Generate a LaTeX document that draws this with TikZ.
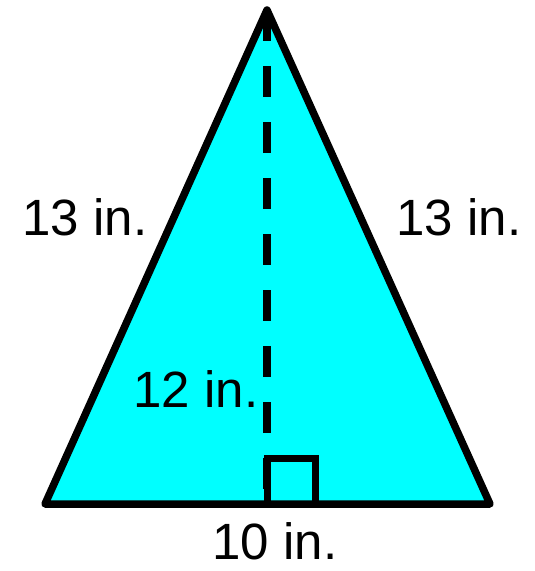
\documentclass[tikz,border=0pt]{standalone}
\usepackage{fontspec}
\setmainfont{Liberation Sans}
\definecolor{tri}{RGB}{0,255,255}
\begin{document}
\begin{tikzpicture}[x=1pt,y=-1pt,
  edge/.style={line width=7.5pt,line join=round,line cap=round},
  lbl/.style={anchor=base,inner sep=0pt,text depth=0pt,font=\fontsize{51}{60}\selectfont}]
\useasboundingbox (0,0) rectangle (535,571);
\coordinate (A) at (267,10);
\coordinate (B) at (45,504);
\coordinate (C) at (490,504);
\coordinate (F) at (267,504);
\coordinate (S1) at (267,458);
\coordinate (S2) at (315,458);
\coordinate (S3) at (315,504);
\fill[tri] (A) -- (B) -- (C) -- cycle;
\draw[line width=8pt,dash pattern=on 31pt off 25pt] (A) -- (F);
\draw[line width=7pt,line join=miter] (F) -- (S1) -- (S2) -- (S3);
\draw[edge] (A) -- (B) -- (C) -- cycle;
\node[lbl] (l1) at (85,235) {13 in.};
\node[lbl] (l2) at (459,235) {13 in.};
\node[lbl] (h) at (196,407) {12 in.};
\node[lbl] (b) at (275,559) {10 in.};
\end{tikzpicture}
\end{document}
